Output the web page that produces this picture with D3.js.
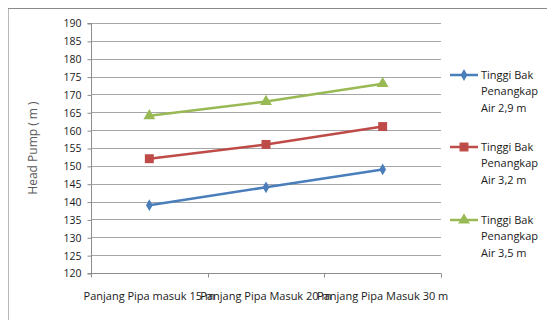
<!DOCTYPE html>
<html>
<head>
<meta charset="utf-8">
<script src="https://cdn.jsdelivr.net/npm/d3@7"></script>
<style>
body { margin: 0; background: #fff; }
text { font-family: "Open Sans", Lato, sans-serif; }
</style>
</head>
<body>
<div id="vis"></div>
<script>
var categories = ["Panjang Pipa masuk 15 m", "Panjang Pipa Masuk 20 m", "Panjang Pipa Masuk 30 m"];
var seriesNames = [["Tinggi Bak", "Penangkap", "Air 2,9 m"],
                   ["Tinggi Bak", "Penangkap", "Air 3,2 m"],
                   ["Tinggi Bak", "Penangkap", "Air 3,5 m"]];
var values29 = [139, 144, 149];
var values32 = [152, 156, 161];
var values35 = [164, 168, 173];
var yTicks = d3.range(120, 191, 5);

var width = 547,
    height = 320;

var series = [
  { name: seriesNames[0], values: values29, color: "#4a7ebb", symbol: d3.symbolDiamond, size: 40, legendY: 75 },
  { name: seriesNames[1], values: values32, color: "#be4b48", symbol: d3.symbolSquare, size: 80, legendY: 147 },
  { name: seriesNames[2], values: values35, color: "#98b954", symbol: d3.symbolTriangle, size: 60, legendY: 220 }
];

var svg = d3.select("#vis").append("svg")
    .attr("width", width)
    .attr("height", height);

// chart frame
svg.append("path")
    .attr("d", "M8.5,320V8.5H547")
    .attr("fill", "none")
    .attr("stroke", "#b8b8b8");
svg.append("line")
    .attr("x1", 8).attr("x2", 547).attr("y1", 8.5).attr("y2", 8.5)
    .attr("stroke", "#8a8a8a");

var x = d3.scaleBand()
    .domain(categories)
    .range([91, 441]);

var y = d3.scaleLinear()
    .domain([120, 190])
    .range([273, 23]);

// gridlines
svg.append("g")
    .selectAll("line")
    .data(yTicks)
    .enter().append("line")
    .attr("x1", 91).attr("x2", 441)
    .attr("y1", function(d) { return Math.round(y(d)) + 0.5; })
    .attr("y2", function(d) { return Math.round(y(d)) + 0.5; })
    .attr("stroke", "#a6a6a6");

var yAxis = svg.append("g")
    .attr("transform", "translate(91.5,0.5)")
    .call(d3.axisLeft(y).tickValues(yTicks).tickSize(4).tickPadding(6));
yAxis.select(".domain").attr("stroke", "#8c8c8c").attr("d", "M-4," + y(120) + "H0V" + y(190) + "H-4");
yAxis.selectAll(".tick line").attr("stroke", "#8c8c8c");
yAxis.selectAll(".tick text")
    .attr("fill", "#1a1a1a")
    .style("font-size", "10.5px")
    .style("font-family", "'Open Sans', sans-serif");

var xAxis = svg.append("g")
    .attr("transform", "translate(0," + (Math.round(y(120)) + 0.5) + ")");
xAxis.append("line")
    .attr("x1", 91).attr("x2", 441)
    .attr("stroke", "#8c8c8c");
xAxis.selectAll(".xt")
    .data(categories.concat([null]))
    .enter().append("line")
    .attr("x1", function(d, i) { return Math.round(91 + i * x.bandwidth()) + 0.5; })
    .attr("x2", function(d, i) { return Math.round(91 + i * x.bandwidth()) + 0.5; })
    .attr("y1", 0).attr("y2", 4)
    .attr("stroke", "#8c8c8c");
xAxis.selectAll("text")
    .data(categories)
    .enter().append("text")
    .attr("x", function(d) { return x(d) + x.bandwidth() / 2; })
    .attr("y", 26)
    .attr("text-anchor", "middle")
    .attr("fill", "#1a1a1a")
    .style("font-size", "11px")
    .text(function(d) { return d; });

svg.append("text")
    .attr("transform", "translate(37," + ((y(120) + y(190)) / 2) + ")rotate(-90)")
    .attr("text-anchor", "middle")
    .attr("fill", "#595959")
    .style("font-size", "12px")
    .text("Head Pump ( m )");

var line = d3.line()
    .x(function(d, i) { return x(categories[i]) + x.bandwidth() / 2; })
    .y(function(d) { return y(d); });

var g = svg.selectAll(".series")
    .data(series)
    .enter().append("g");

g.append("path")
    .attr("d", function(d) { return line(d.values); })
    .attr("fill", "none")
    .attr("stroke", function(d) { return d.color; })
    .attr("stroke-width", 2.5);

g.each(function(s) {
  d3.select(this).selectAll(".pt")
      .data(s.values)
      .enter().append("path")
      .attr("transform", function(d, i) {
        return "translate(" + (x(categories[i]) + x.bandwidth() / 2) + "," + y(d) + ")";
      })
      .attr("d", d3.symbol().type(s.symbol).size(s.size))
      .attr("fill", s.color);
});

// legend
var leg = svg.selectAll(".leg")
    .data(series)
    .enter().append("g")
    .attr("transform", function(d) { return "translate(0," + d.legendY + ")"; });

leg.append("line")
    .attr("x1", 450).attr("x2", 478)
    .attr("stroke", function(d) { return d.color; })
    .attr("stroke-width", 2.5);
leg.append("path")
    .attr("transform", "translate(464,0)")
    .attr("d", function(d) { return d3.symbol().type(d.symbol).size(d.size)(); })
    .attr("fill", function(d) { return d.color; });
leg.append("text")
    .attr("x", 481)
    .attr("fill", "#1a1a1a")
    .style("font-size", "11px")
    .selectAll("tspan")
    .data(function(d) { return d.name; })
    .enter().append("tspan")
    .attr("x", 481)
    .attr("y", function(d, i) { return 3.5 + i * 16.5; })
    .text(function(d) { return d; });
</script>
</body>
</html>
